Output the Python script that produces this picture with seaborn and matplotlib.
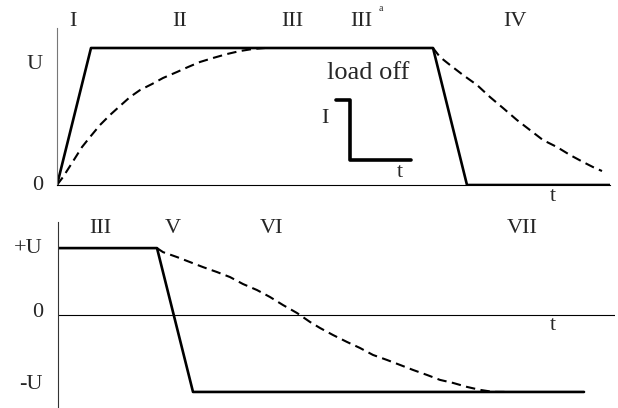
import matplotlib
matplotlib.use("Agg")
import matplotlib.pyplot as plt
import seaborn as sns
import pandas as pd

# ---- data (time in arbitrary units, voltage in units of U) ----
# upper diagram: ramp up, steady state, load off, decay
top_solid_t = [0.0, 3.4, 37.6, 41.0, 55.3]
top_solid_v = [0.0, 1.0, 1.0, 0.0, 0.0]

top_rise_t = [0.0, 0.6, 1.5, 2.5, 3.3, 4.3, 5.3, 6.3, 7.3, 8.3, 9.5, 10.6,
              12.0, 13.1, 14.3, 15.6, 17.0, 18.3, 19.6, 20.8]
top_rise_v = [0.0, 0.058, 0.161, 0.277, 0.350, 0.438, 0.511, 0.577, 0.642,
              0.693, 0.737, 0.781, 0.825, 0.861, 0.898, 0.927, 0.956, 0.978,
              0.993, 1.0]

top_decay_t = [37.6, 38.3, 39.3, 40.6, 42.0, 43.3, 44.6, 46.0, 47.3, 48.6,
               50.0, 51.3, 52.6, 53.6, 54.5]
top_decay_v = [1.0, 0.934, 0.876, 0.803, 0.730, 0.642, 0.562, 0.474, 0.401,
               0.328, 0.277, 0.219, 0.168, 0.131, 0.102]

# small current step sketch ("load off")
step_t = [27.9, 29.3, 29.3, 35.4]
step_i = [0.620, 0.620, 0.182, 0.182]

# lower diagram: polarity reversal from +U to -U
bot_solid_t = [0.0, 9.9, 13.5, 52.6]
bot_solid_v = [1.0, 1.0, -1.15, -1.15]

bot_dash_t = [9.9, 10.5, 11.9, 13.2, 14.5, 15.9, 17.2, 18.5, 19.9, 21.2, 22.5,
              23.9, 25.2, 26.2, 27.5, 28.9, 30.2, 31.5, 32.9, 34.2, 35.5, 36.9,
              38.2, 39.5, 40.9, 42.2, 43.5, 44.9]
bot_dash_v = [1.0, 0.940, 0.866, 0.791, 0.716, 0.642, 0.567, 0.463, 0.373,
              0.269, 0.149, 0.030, -0.104, -0.194, -0.299, -0.403, -0.493,
              -0.597, -0.672, -0.746, -0.821, -0.896, -0.970, -1.015, -1.075,
              -1.119, -1.149, -1.15]

top_stage_labels = ["I", "II", "III", "III", "IV"]
bot_stage_labels = ["III", "V", "VI", "VII"]

# ---- styling ----
sns.set_theme(style="white")
plt.rcParams["font.family"] = ["Liberation Serif", "DejaVu Serif"]

fig = plt.figure(figsize=(6.18, 4.08), dpi=100)
fig.patch.set_facecolor("white")

ax1 = fig.add_axes([57 / 618, 223 / 408, 553 / 618, 157 / 408])
ax2 = fig.add_axes([58 / 618, 0.0, 557 / 618, 186 / 408])

SOLID_LW = 1.9
DASH_LW = 1.5
DASH = (0, (4.5, 2.6))
FS = 16


def draw(ax, t, v, **kw):
    df = pd.DataFrame({"t": t, "v": v})
    sns.lineplot(data=df, x="t", y="v", ax=ax, sort=False, estimator=None,
                 color="black", **kw)


# upper panel
draw(ax1, top_rise_t, top_rise_v, lw=DASH_LW, linestyle=DASH)
draw(ax1, top_decay_t, top_decay_v, lw=DASH_LW, linestyle=DASH)
draw(ax1, top_solid_t, top_solid_v, lw=SOLID_LW)
draw(ax1, step_t, step_i, lw=2.6)

ax1.set_xlim(0, 55.3)
ax1.set_ylim(0, 1.146)

# lower panel
ax2.axhline(0, color="black", lw=0.8, zorder=1)
draw(ax2, bot_dash_t, bot_dash_v, lw=DASH_LW, linestyle=DASH)
draw(ax2, bot_solid_t, bot_solid_v, lw=SOLID_LW)
ax2.set_xlim(0, 55.7)
ax2.set_ylim(-1.39, 1.39)

for ax in (ax1, ax2):
    ax.set_xlabel("")
    ax.set_ylabel("")
    ax.set_xticks([])
    ax.set_yticks([])
    ax.set_facecolor("none")
    for s in ("top", "right"):
        ax.spines[s].set_visible(False)
    ax.spines["left"].set_linewidth(0.8)

ax1.spines["left"].set_color("#777777")
ax2.spines["left"].set_color("#333333")
ax1.spines["bottom"].set_color("black")
ax1.spines["bottom"].set_linewidth(0.8)
ax2.spines["bottom"].set_visible(False)

# stage labels above each panel
for lab, x in zip(top_stage_labels, [1.6, 12.3, 23.5, 30.4, 45.8]):
    ax1.text(x, 1.19, lab, ha="center", va="center", fontsize=FS)
ax1.text(32.4, 1.285, "a", ha="center", va="center", fontsize=7)

for lab, x in zip(bot_stage_labels, [4.2, 11.5, 21.4, 46.4]):
    ax2.text(x, 1.30, lab, ha="center", va="center", fontsize=FS)

# level labels
ax1.text(-1.4, 0.883, "U", ha="right", va="center", fontsize=FS)
ax1.text(-1.4, 0.0, "0", ha="right", va="center", fontsize=FS)
ax2.text(-1.5, 1.0, "+U", ha="right", va="center", fontsize=FS)
ax2.text(-1.5, 0.03, "0", ha="right", va="center", fontsize=FS)
ax2.text(-1.5, -1.045, "-U", ha="right", va="center", fontsize=FS)

# time-axis labels
ax1.text(49.6, -0.085, "t", ha="center", va="center", fontsize=FS)
ax2.text(49.5, -0.15, "t", ha="center", va="center", fontsize=FS)

# load-off note with current step
ax1.text(31.1, 0.818, "load off", ha="center", va="center", fontsize=19)
ax1.text(26.8, 0.489, "I", ha="center", va="center", fontsize=FS)
ax1.text(34.3, 0.088, "t", ha="center", va="center", fontsize=FS)

fig.savefig("out.png", dpi=100, facecolor="white")
